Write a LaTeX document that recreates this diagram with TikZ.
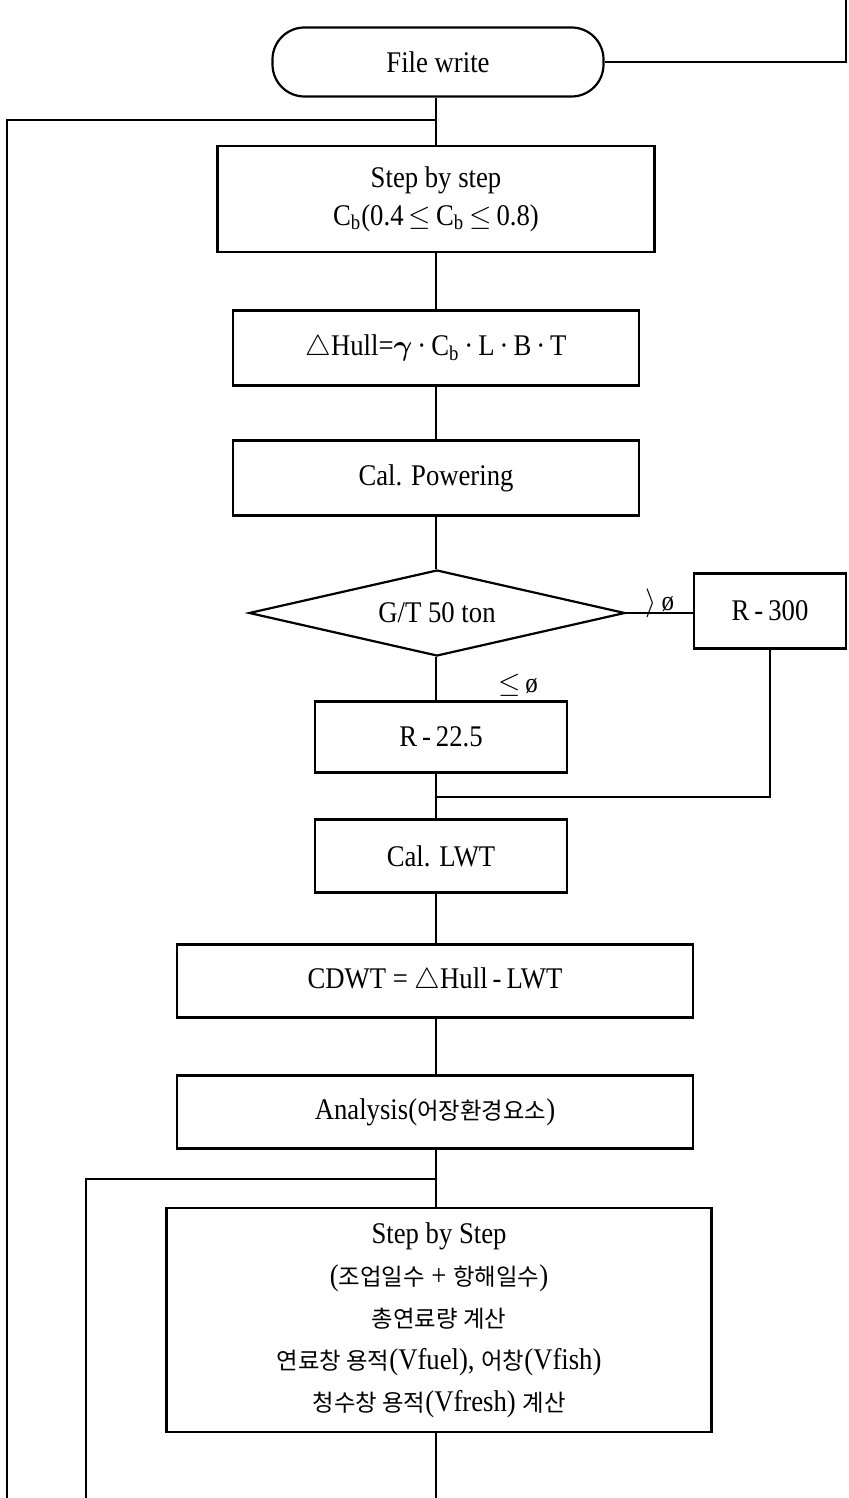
\documentclass[tikz,border=0pt]{standalone}
\usepackage{amsmath}
\usepackage{fontspec}
\setmainfont{Liberation Serif}[FakeStretch=0.89]
\newfontfamily\kr{Noto Sans CJK KR}[Scale=0.78]
\usetikzlibrary{shapes.geometric}
\begin{document}
\begin{tikzpicture}[x=0.5pt,y=-0.5pt,
  font=\fontsize{15}{19}\selectfont,
  box/.style={draw, line width=1.1pt, inner sep=0pt, align=center},
  conn/.style={line width=0.6pt},
  lbl/.style={font=\fontsize{14}{15}\selectfont, inner sep=0pt}]
\useasboundingbox (0,0) rectangle (848,1498);

% nodes
\node[box, rounded corners=16pt, minimum width=331*0.5pt, minimum height=69*0.5pt] (term) at (438,62) {File write};
\node[box, minimum width=437*0.5pt, minimum height=106*0.5pt] (box1) at (436,199)
  {Step by step\\C\textsubscript{b}(0.4\,$\leq$\,C\textsubscript{b}\,$\leq$\,0.8)};
\node[box, minimum width=406*0.5pt, minimum height=75*0.5pt] (box2) at (436,348)
  {$\triangle$Hull=$\boldsymbol{\gamma}$\,·\,C\textsubscript{b}\,·\,L\,·\,B\,·\,T};
\node[box, minimum width=406*0.5pt, minimum height=75*0.5pt] (box3) at (436,478)
  {Cal. Powering};
\node[draw, diamond, line width=1.1pt, shape aspect=4.37, inner sep=0pt,
  minimum width=376*0.5pt, minimum height=86*0.5pt] (dia) at (437,613) {G/T 50 ton};
\node[box, minimum width=152*0.5pt, minimum height=75*0.5pt] (r300) at (770,611) {R\,-\,300};
\node[box, minimum width=252*0.5pt, minimum height=71*0.5pt] (r225) at (441,737) {R\,-\,22.5};
\node[box, minimum width=252*0.5pt, minimum height=73*0.5pt] (lwt) at (441,856) {Cal. LWT};
\node[box, minimum width=516*0.5pt, minimum height=73*0.5pt] (cdwt) at (435,981)
  {CDWT = $\triangle$Hull\,-\,LWT};
\node[box, minimum width=516*0.5pt, minimum height=73*0.5pt] (ana) at (435,1112)
  {Analysis({\kr 어장환경요소})};
\node[box, minimum width=545*0.5pt, minimum height=224*0.5pt, font=\fontsize{15}{21}\selectfont] (big) at (439,1320)
  {Step by Step\\
   ({\kr 조업일수} + {\kr 항해일수})\\
   {\kr 총연료량 계산}\\
   {\kr 연료창 용적}(Vfuel), {\kr 어창}(Vfish)\\
   {\kr 청수창 용적}(Vfresh) {\kr 계산}};

% labels
\node[lbl] (lgt) at (660,603) {$\rangle$\,ø};
\node[lbl] (lle) at (518,685) {$\leq$\,ø};

% coordinates
\coordinate (tr) at (846,0);
\coordinate (j1) at (436,120);
\coordinate (lb1) at (7,1498);
\coordinate (j2) at (436,797);
\coordinate (j3) at (436,1179);
\coordinate (lb2) at (86,1498);
\coordinate (bot) at (436,1498);

% connectors
\draw[conn] (term.east) -| (tr);
\draw[conn] (term.south -| box1.north) -- (box1.north);
\draw[conn] (j1) -| (lb1);
\draw[conn] (box1.south) -- (box2.north);
\draw[conn] (box2.south) -- (box3.north);
\draw[conn] (box3.south) -- (box3.south |- dia.north);
\draw[conn] (dia.east) -- (dia.east -| r300.west);
\draw[conn] (dia.south -| box3.south) -- (box3.south |- r225.north);
\draw[conn] (r300.south) |- (j2);
\draw[conn] (box3.south |- r225.south) -- (box3.south |- lwt.north);
\draw[conn] (box3.south |- lwt.south) -- (box3.south |- cdwt.north);
\draw[conn] (box3.south |- cdwt.south) -- (box3.south |- ana.north);
\draw[conn] (box3.south |- ana.south) -- (box3.south |- big.north);
\draw[conn] (j3) -| (lb2);
\draw[conn] (box3.south |- big.south) -- (bot);
\end{tikzpicture}
\end{document}
